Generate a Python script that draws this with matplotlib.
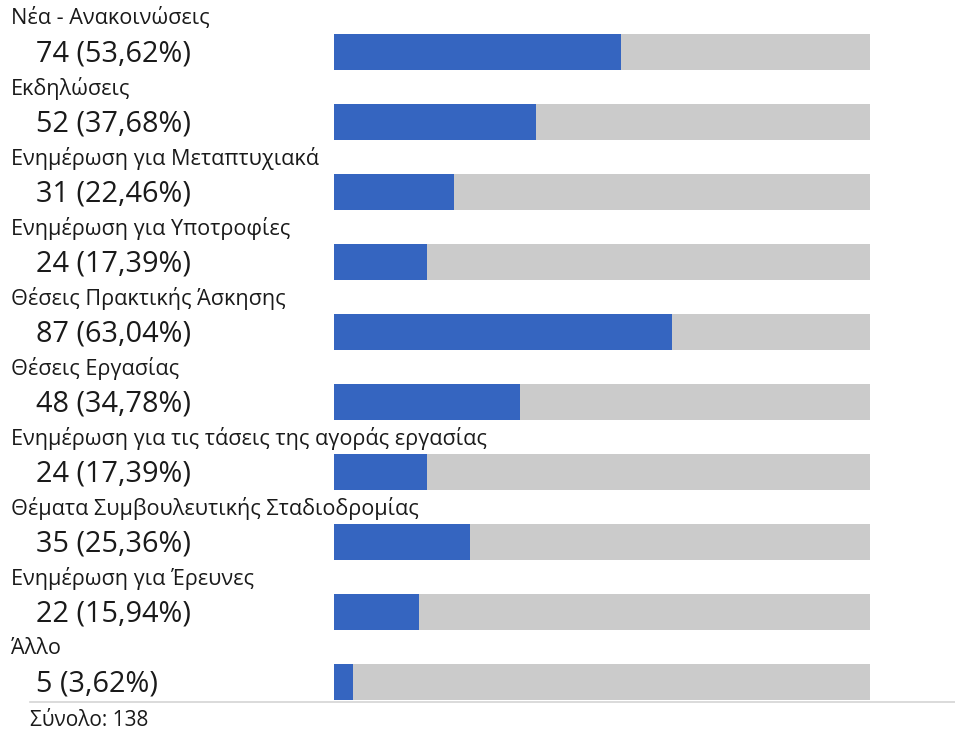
import matplotlib.pyplot as plt
from matplotlib.transforms import blended_transform_factory

categories = ['Νέα - Ανακοινώσεις', 'Εκδηλώσεις', 'Ενημέρωση για Μεταπτυχιακά',
              'Ενημέρωση για Υποτροφίες', 'Θέσεις Πρακτικής Άσκησης', 'Θέσεις Εργασίας',
              'Ενημέρωση για τις τάσεις της αγοράς εργασίας',
              'Θέματα Συμβουλευτικής Σταδιοδρομίας', 'Ενημέρωση για Έρευνες', 'Άλλο']
counts = [74, 52, 31, 24, 87, 48, 24, 35, 22, 5]
percents = [53.62, 37.68, 22.46, 17.39, 63.04, 34.78, 17.39, 25.36, 15.94, 3.62]
total = 138

plt.rcParams['font.family'] = ['Open Sans', 'DejaVu Sans']
W, H = 955, 735
fig = plt.figure(figsize=(W / 100, H / 100), dpi=100)
ax = fig.add_axes([334 / W, (H - 717) / H, 536 / W, 700 / H])

y = list(range(len(categories)))
ax.barh(y, [100] * len(y), height=0.515, color='#cbcbcb')
ax.barh(y, percents, height=0.515, color='#3565c0')
ax.set_xlim(0, 100)
ax.set_ylim(len(y) - 0.5, -0.5)
ax.axis('off')

tr = blended_transform_factory(fig.transFigure, ax.transData)
for i, (c, n, p) in enumerate(zip(categories, counts, percents)):
    ax.text(11 / W, i - 0.48, c, transform=tr, fontsize=15.6, color='#1a1a1a',
            va='center', ha='left')
    pct = f'{p:.2f}'.replace('.', ',')
    ax.text(36 / W, i + 0.03, f'{n} ({pct}%)', transform=tr, fontsize=20.8,
            color='#1a1a1a', va='center', ha='left')

fig.add_artist(plt.Line2D([30 / W, 1], [(H - 702) / H] * 2, color='#d4d4d4', lw=1.2))
fig.text(30 / W, (H - 720) / H, f'Σύνολο: {total}', fontsize=15, color='#1a1a1a',
         va='center', ha='left')

fig.savefig('out.png', dpi=100)
